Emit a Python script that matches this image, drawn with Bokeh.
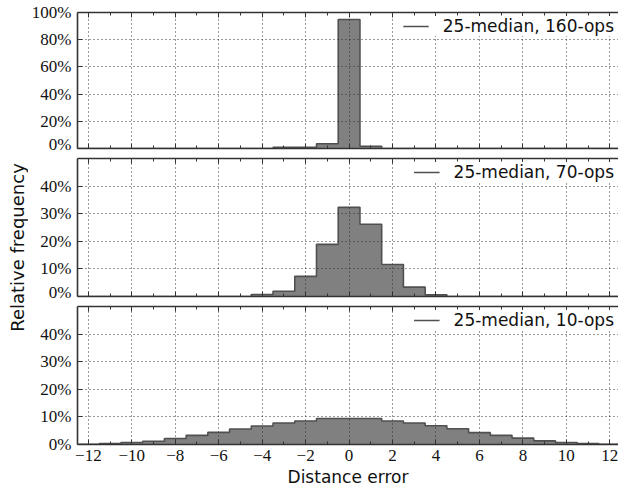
import numpy as np
from bokeh.plotting import figure
from bokeh.models import Range1d, FixedTicker, LinearAxis, PrintfTickFormatter
from bokeh.layouts import row, column
from bokeh.embed import file_html
from bokeh.resources import INLINE
from bokeh.core.properties import value

# ---- data (relative frequency in %) ----
bins = list(range(-12, 13))  # bin centres, width 1
ops160 = [0, 0, 0, 0, 0, 0, 0, 0, 0, 0.8, 0.8, 3.5, 94.8, 1.6,
          0, 0, 0, 0, 0, 0, 0, 0, 0, 0, 0]
ops70 = [0, 0, 0, 0, 0, 0, 0, 0, 0.7, 1.9, 7.3, 18.9, 32.3, 26.2, 11.6, 3.4, 0.6,
         0, 0, 0, 0, 0, 0, 0, 0]
ops10 = [0.1, 0.3, 0.7, 1.2, 2.2, 3.3, 4.4, 5.6, 6.7, 7.8, 8.5, 9.4, 9.4, 9.4,
         8.5, 7.8, 6.8, 5.7, 4.3, 3.3, 2.3, 1.3, 0.7, 0.3, 0.1]
labels = ["25-median, 160-ops", "25-median, 70-ops", "25-median, 10-ops"]
x_ticks = list(range(-12, 13, 2))
x_minor = list(range(-11, 13, 2))
x_tick_labels = {t: str(t).replace("-", "\u2212") for t in x_ticks}
y_ticks_top = [0, 20, 40, 60, 80, 100]
y_ticks_low = [0, 10, 20, 30, 40]

SERIF = "Liberation Serif"
SANS = "DejaVu Sans"
AX = "#333333"
LAB_W = 28
FIG_W = 590
H1, H2, H3 = 153, 148, 193

def style_ticks(ax):
    ax.axis_line_color = AX
    ax.axis_line_width = 1.6
    ax.major_tick_line_color = AX
    ax.minor_tick_line_color = AX
    ax.major_tick_in = 5
    ax.major_tick_out = 0
    ax.minor_tick_in = 3
    ax.minor_tick_out = 0

def hide_labels(ax):
    ax.major_label_text_color = None
    ax.major_label_text_font_size = "1px"
    ax.major_label_standoff = 0

def panel(vals, label, y_end, y_ticks, height, top, bottom, show_x):
    p = figure(width=FIG_W, height=height, x_range=Range1d(-12.5, 12.4),
               y_range=Range1d(0, y_end), toolbar_location=None,
               output_backend="svg", min_border_left=46, min_border_right=0,
               min_border_top=top, min_border_bottom=bottom)
    p.outline_line_color = None
    edges = [b - 0.5 for b in bins] + [bins[-1] + 0.5]
    ys = list(vals) + [vals[-1]]
    p.varea_step(x=edges, y1=[0] * len(edges), y2=ys, step_mode="after",
                 fill_color="#808080")
    p.step(x=edges, y=ys, mode="after", line_color="#505050", line_width=1.6,
           legend_label=label)

    xt = FixedTicker(ticks=x_ticks, minor_ticks=x_minor)
    yt = FixedTicker(ticks=y_ticks)
    p.xaxis.ticker = xt
    p.yaxis.ticker = yt
    p.xgrid.ticker = FixedTicker(ticks=x_ticks)
    p.ygrid.ticker = yt
    for g in (p.xgrid, p.ygrid):
        g.grid_line_color = "#333333"
        g.grid_line_dash = "1 3"
        g.grid_line_width = 1
        g.level = "guide"

    for ax in p.xaxis + p.yaxis:
        style_ticks(ax)
        ax.major_label_text_font = SERIF
        ax.major_label_text_font_size = "17px"
        ax.major_label_text_color = "#111111"
    p.yaxis.minor_tick_line_color = None
    p.yaxis.formatter = PrintfTickFormatter(format="%d%%")
    p.yaxis.major_label_standoff = 6

    if show_x:
        p.xaxis.major_label_overrides = x_tick_labels
        p.xaxis.major_label_standoff = 5
        p.xaxis.axis_label = "Distance error"
        p.xaxis.axis_label_text_font = SANS
        p.xaxis.axis_label_text_font_size = "17px"
        p.xaxis.axis_label_text_font_style = "normal"
        p.xaxis.axis_label_text_color = "#111111"
        p.xaxis.axis_label_standoff = 3
    else:
        hide_labels(p.xaxis[0])

    top_ax = LinearAxis(ticker=xt)
    style_ticks(top_ax)
    hide_labels(top_ax)
    p.add_layout(top_ax, "above")

    lg = p.legend[0]
    lg.location = "top_right"
    lg.border_line_color = None
    lg.background_fill_color = "white"
    lg.background_fill_alpha = 1
    lg.label_text_font = SANS
    lg.label_text_font_size = "17px"
    lg.label_text_color = "#111111"
    lg.glyph_width = 26
    lg.label_standoff = 14
    lg.padding = 9
    lg.margin = 4
    return p

f1 = panel(ops160, labels[0], 100, y_ticks_top, H1, 12, 5, False)
f2 = panel(ops70, labels[1], 50, y_ticks_low, H2, 5, 5, False)
f3 = panel(ops10, labels[2], 50, y_ticks_low, H3, 5, 50, True)

lab = figure(width=LAB_W, height=H1 + H2 + H3, x_range=Range1d(0, LAB_W), y_range=Range1d(0, 1),
             toolbar_location=None, output_backend="svg", min_border=0)
lab.axis.visible = False
lab.grid.visible = False
lab.outline_line_color = None
lab.text(x=[17], y=[0.5], text=["Relative frequency"], angle=np.pi / 2,
         text_align="center", text_baseline="middle",
         text_font=value(SANS), text_font_size=value("18px"), text_color="#111111")

layout = row(lab, column(f1, f2, f3))
open("out.html", "w").write(file_html(layout, INLINE))
